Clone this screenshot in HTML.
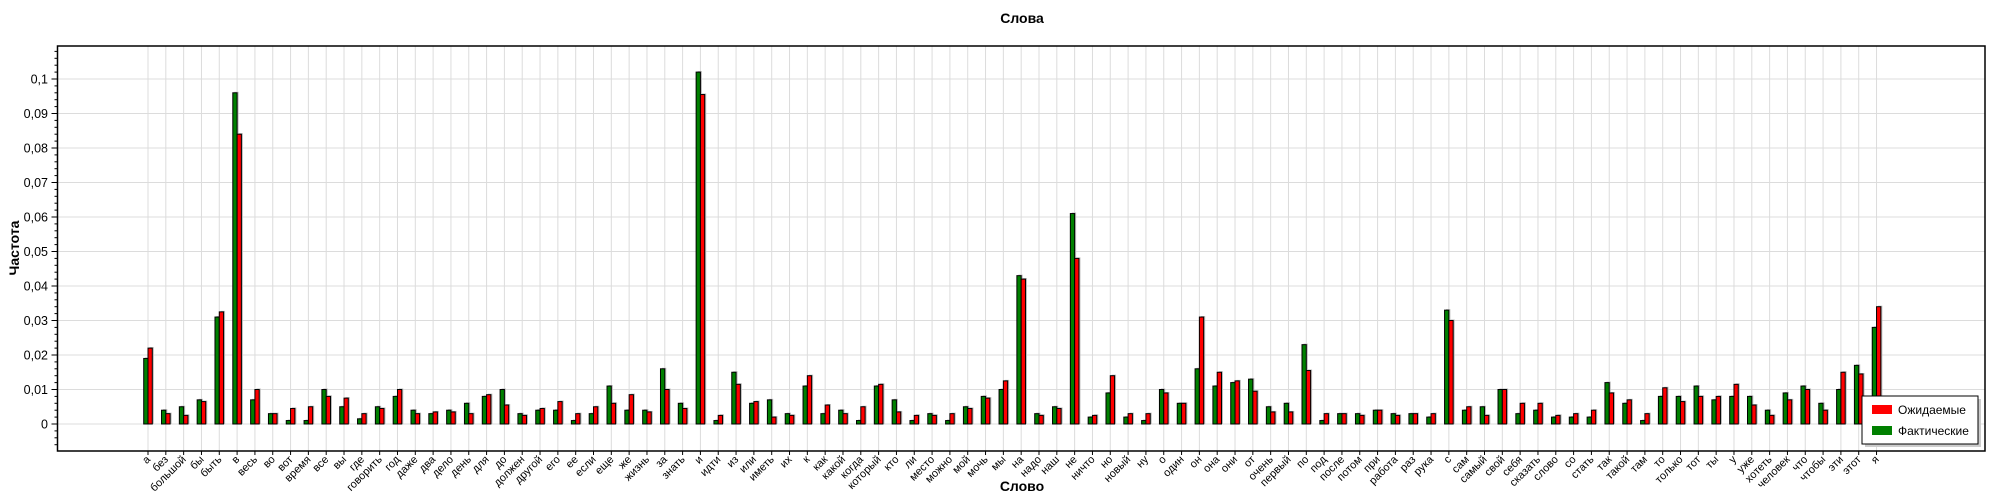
<!DOCTYPE html>
<html><head><meta charset="utf-8"><style>
body{margin:0;background:#fff;}
svg{display:block;font-family:"Liberation Sans","DejaVu Sans",sans-serif;}
</style></head><body>
<svg id="chart" width="2000" height="500" xmlns="http://www.w3.org/2000/svg"></svg>
<script>
const categories=["а","без","большой","бы","быть","в","весь","во","вот","время","все","вы","где","говорить","год","даже","два","дело","день","для","до","должен","другой","его","ее","если","еще","же","жизнь","за","знать","и","идти","из","или","иметь","их","к","как","какой","когда","который","кто","ли","место","можно","мой","мочь","мы","на","надо","наш","не","ничто","но","новый","ну","о","один","он","она","они","от","очень","первый","по","под","после","потом","при","работа","раз","рука","с","сам","самый","свой","себя","сказать","слово","со","стать","так","такой","там","то","только","тот","ты","у","уже","хотеть","человек","что","чтобы","эти","этот","я"];
const actualValues=[0.019,0.004,0.005,0.007,0.031,0.096,0.007,0.003,0.001,0.001,0.010,0.005,0.0015,0.005,0.008,0.004,0.003,0.004,0.006,0.008,0.010,0.003,0.004,0.004,0.001,0.003,0.011,0.004,0.004,0.016,0.006,0.102,0.001,0.015,0.006,0.007,0.003,0.011,0.003,0.004,0.001,0.011,0.007,0.001,0.003,0.001,0.005,0.008,0.010,0.043,0.003,0.005,0.061,0.002,0.009,0.002,0.001,0.010,0.006,0.016,0.011,0.012,0.013,0.005,0.006,0.023,0.001,0.003,0.003,0.004,0.003,0.003,0.002,0.033,0.004,0.005,0.010,0.003,0.004,0.002,0.002,0.002,0.012,0.006,0.001,0.008,0.008,0.011,0.007,0.008,0.008,0.004,0.009,0.011,0.006,0.010,0.017,0.028];
const expectedValues=[0.022,0.003,0.0025,0.0065,0.0325,0.084,0.010,0.003,0.0045,0.005,0.008,0.0075,0.003,0.0045,0.010,0.003,0.0035,0.0035,0.003,0.0085,0.0055,0.0025,0.0045,0.0065,0.003,0.005,0.006,0.0085,0.0035,0.010,0.0045,0.0955,0.0025,0.0115,0.0065,0.002,0.0025,0.014,0.0055,0.003,0.005,0.0115,0.0035,0.0025,0.0025,0.003,0.0045,0.0075,0.0125,0.042,0.0025,0.0045,0.048,0.0025,0.014,0.003,0.003,0.009,0.006,0.031,0.015,0.0125,0.0095,0.0035,0.0035,0.0155,0.003,0.003,0.0025,0.004,0.0025,0.003,0.003,0.030,0.005,0.0025,0.010,0.006,0.006,0.0025,0.003,0.004,0.009,0.007,0.003,0.0105,0.0065,0.008,0.008,0.0115,0.0055,0.0025,0.007,0.010,0.004,0.015,0.0145,0.034];
const yTicks=[0,0.01,0.02,0.03,0.04,0.05,0.06,0.07,0.08,0.09,0.1];
const yTickLabels=["0","0,01","0,02","0,03","0,04","0,05","0,06","0,07","0,08","0,09","0,1"];

const NS="http://www.w3.org/2000/svg";
const svg=document.getElementById('chart');
const L=57.5,R=1985,T=46,B=451;
const x=i=>148+i*17.82;
const y=v=>424-v*3450;
function el(tag,attrs,parent){const e=document.createElementNS(NS,tag);for(const k in attrs)e.setAttribute(k,attrs[k]);(parent||svg).appendChild(e);return e;}

const t=el('text',{x:1022,y:23,'text-anchor':'middle','font-size':14,'font-weight':'bold'});t.textContent="Слова";



const grid=el('g',{});


yTicks.forEach(v=>{el('line',{x1:L,x2:R,y1:y(v),y2:y(v),stroke:'#dcdcdc','stroke-width':1},grid);});
categories.forEach((c,i)=>{el('line',{x1:x(i),x2:x(i),y1:T,y2:B,stroke:'#dcdcdc','stroke-width':1},grid);});

const yAxis=el('g',{});


for(let k=-5;k<=54;k++){const v=k*0.002;const yy=y(v);if(yy<T||yy>B)continue;const major=k%5===0;
 el('line',{x1:major?L-6:L-3,x2:L,y1:yy,y2:yy,stroke:'#000','stroke-width':1},yAxis);}
yTicks.forEach((v,i)=>{const tx=el('text',{x:48,y:y(v)+4.5,'text-anchor':'end','font-size':12.5},yAxis);tx.textContent=yTickLabels[i];
 
 });
const yt=el('text',{x:19,y:248,'text-anchor':'middle','font-size':14,'font-weight':'bold',transform:'rotate(-90 19 248)'});yt.textContent="Частота";



const bars=el('g',{});


const bw=4.3;
categories.forEach((c,i)=>{
 const g=el('g',{},bars);
 
 
 const av=actualValues[i],ev=expectedValues[i];
 el('rect',{x:x(i)-bw+1.5,y:y(av)-1,width:bw,height:y(0)-y(av)+1,fill:'#bbb'},g);
 el('rect',{x:x(i)+1.5,y:y(ev)-1,width:bw,height:y(0)-y(ev)+1,fill:'#bbb'},g);
 const ga=el('rect',{x:x(i)-bw,y:y(av),width:bw,height:y(0)-y(av),fill:'#008000',stroke:'#000','stroke-width':1},g);
 
 
 const re=el('rect',{x:x(i),y:y(ev),width:bw,height:y(0)-y(ev),fill:'#ff0000',stroke:'#000','stroke-width':1},g);
 
 
});

el('rect',{x:L,y:T,width:R-L,height:B-T,fill:'none',stroke:'#000','stroke-width':1.5});

const xAxis=el('g',{});


categories.forEach((c,i)=>{
 el('line',{x1:x(i),x2:x(i),y1:B,y2:B+4,stroke:'#000','stroke-width':1},xAxis);
 const lx=x(i)+3,ly=B+9;
 const tx=el('text',{x:lx,y:ly,'text-anchor':'end','font-size':11,transform:`rotate(-45 ${lx} ${ly})`},xAxis);
 tx.textContent=c;
 
 
});
const xt=el('text',{x:1022,y:491,'text-anchor':'middle','font-size':14,'font-weight':'bold'});xt.textContent="Слово";



const lg=el('g',{});


el('rect',{x:1865,y:399,width:116,height:48,fill:'#ccc'},lg);
el('rect',{x:1862,y:396,width:116,height:48,fill:'#fff',stroke:'#000','stroke-width':1},lg);
el('rect',{x:1872,y:405,width:20,height:9,fill:'#ff0000'},lg);
el('rect',{x:1872,y:426,width:20,height:9,fill:'#008000'},lg);
const l1=el('text',{x:1898,y:414,'font-size':12},lg);l1.textContent="Ожидаемые";


const l2=el('text',{x:1898,y:435,'font-size':12},lg);l2.textContent="Фактические";


</script>
</body></html>
